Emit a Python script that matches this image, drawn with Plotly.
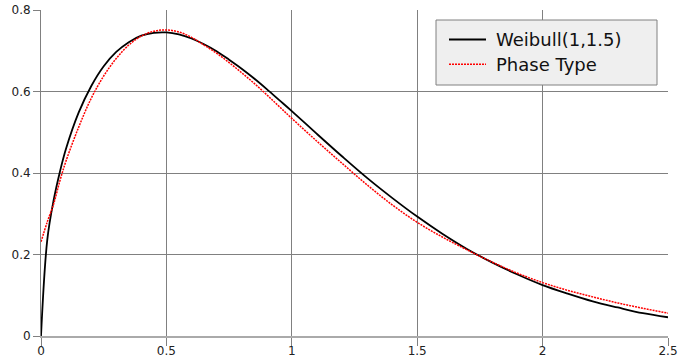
import plotly.graph_objects as go

# Weibull(1,1.5) density
x_weib = [0, 0.025, 0.05, 0.075, 0.1, 0.15, 0.2, 0.25, 0.3, 0.35, 0.4, 0.45, 0.5,
          0.55, 0.6, 0.65, 0.7, 0.75, 0.8, 0.85, 0.9, 0.95, 1.0, 1.1, 1.2, 1.3,
          1.4, 1.5, 1.6, 1.7, 1.8, 1.9, 2.0, 2.1, 2.2, 2.3, 2.4, 2.5]
y_weib = [0, 0.236, 0.332, 0.402, 0.460, 0.548, 0.613, 0.662, 0.697, 0.721, 0.737,
          0.744, 0.745, 0.740, 0.730, 0.716, 0.699, 0.678, 0.656, 0.632, 0.606,
          0.579, 0.552, 0.496, 0.441, 0.388, 0.339, 0.293, 0.251, 0.213, 0.180,
          0.151, 0.125, 0.104, 0.085, 0.070, 0.056, 0.046]

# Phase type fit
x_ph = [0, 0.025, 0.05, 0.075, 0.1, 0.15, 0.2, 0.25, 0.3, 0.35, 0.4, 0.45, 0.5,
        0.55, 0.6, 0.65, 0.7, 0.75, 0.8, 0.85, 0.9, 0.95, 1.0, 1.1, 1.2, 1.3,
        1.4, 1.5, 1.6, 1.7, 1.8, 1.9, 2.0, 2.1, 2.2, 2.3, 2.4, 2.5]
y_ph = [0.231, 0.280, 0.323, 0.380, 0.430, 0.512, 0.583, 0.638, 0.681, 0.714, 0.736,
        0.748, 0.751, 0.746, 0.733, 0.714, 0.694, 0.671, 0.646, 0.620, 0.592,
        0.563, 0.534, 0.478, 0.424, 0.371, 0.322, 0.279, 0.243, 0.211, 0.181,
        0.154, 0.131, 0.112, 0.096, 0.081, 0.068, 0.056]

series_names = ["Weibull(1,1.5)", "Phase Type"]

x_ticks = [0, 0.5, 1, 1.5, 2, 2.5]
x_ticklabels = ["0", "0.5", "1", "1.5", "2", "2.5"]
y_ticks = [0, 0.2, 0.4, 0.6, 0.8]
y_ticklabels = ["0", "0.2", "0.4", "0.6", "0.8"]

FONT = "DejaVu Sans"
W, H = 694, 358
# plot area in window pixels (from the reference)
PL, PR, PT, PB = 41, 668, 10, 336
ML, MT, MR, MB = PL, PT, W - PR, H - PB
PW, PH = PR - PL, PB - PT


def px(xp):
    return (xp - PL) / PW


def py(yp):
    return (PB - yp) / PH


line_styles = [dict(color="black", width=1.8),
               dict(color="red", width=1.5, dash="2px,1px")]

fig = go.Figure()
fig.add_trace(go.Scatter(x=x_weib, y=y_weib, mode="lines", name=series_names[0],
                         line=line_styles[0], line_shape="spline", showlegend=False))
fig.add_trace(go.Scatter(x=x_ph, y=y_ph, mode="lines", name=series_names[1],
                         line=line_styles[1], line_shape="spline", showlegend=False))

# legend box drawn by hand to match the reference geometry
shapes = [dict(type="rect", xref="paper", yref="paper",
               x0=px(436), x1=px(657), y0=py(20), y1=py(85),
               fillcolor="#efefef", line=dict(color="#808080", width=1), layer="above")]
annotations = []
for i, name in enumerate(series_names):
    yc = 39.5 + i * 24.7
    st = line_styles[i]
    ln = dict(color=st["color"], width=st["width"])
    if "dash" in st:
        ln["dash"] = st["dash"]
    shapes.append(dict(type="line", xref="paper", yref="paper",
                       x0=px(449), x1=px(486), y0=py(yc), y1=py(yc),
                       line=ln, layer="above"))
    annotations.append(dict(xref="paper", yref="paper", x=px(494), y=py(yc),
                            xanchor="left", yanchor="middle", text=name,
                            showarrow=False,
                            font=dict(family=FONT, size=18, color="#111")))

fig.update_layout(
    width=W, height=H,
    margin=dict(l=ML, r=MR, t=MT, b=MB),
    paper_bgcolor="white", plot_bgcolor="white",
    font=dict(family=FONT, size=12, color="#222"),
    showlegend=False,
    shapes=shapes, annotations=annotations,
    xaxis=dict(
        range=[0, 2.5], tickvals=x_ticks, ticktext=x_ticklabels,
        showgrid=True, gridcolor="#808080", gridwidth=1,
        zeroline=False, showline=True, linecolor="#aaaaaa", linewidth=2,
        ticks="outside", ticklen=8, tickcolor="#808080", automargin=False,
        ticklabelstandoff=-5,
    ),
    yaxis=dict(
        range=[0, 0.8], tickvals=y_ticks, ticktext=y_ticklabels,
        showgrid=True, gridcolor="#808080", gridwidth=1,
        zeroline=False, showline=True, linecolor="#808080", linewidth=1,
        ticks="outside", ticklen=7, tickcolor="#808080", automargin=False,
    ),
)

fig.write_html("out.html", config={"displayModeBar": False},
               post_script="document.body.style.margin='0';document.body.style.overflow='hidden';")
